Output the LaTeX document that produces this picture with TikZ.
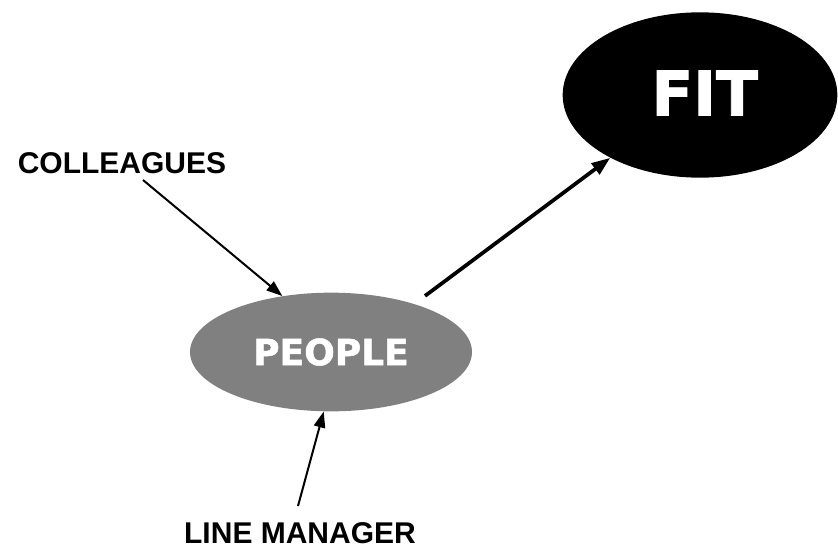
\documentclass[tikz,border=0pt]{standalone}
\usepackage{fontspec}
\setmainfont{Liberation Sans}
\newfontfamily\heavyfont[FakeBold=1.4]{DejaVu Sans}
\usetikzlibrary{arrows.meta}
\usetikzlibrary{shapes.geometric}
\tikzstyle{LabelNode}=[font=\fontsize{22.5}{27}\selectfont\bfseries, inner sep=0pt]
\tikzstyle{BlobNode}=[ellipse, inner sep=0pt, text=white]
\tikzstyle{PeopleNode}=[BlobNode, fill=black!50, minimum width=211.5pt, minimum height=89pt, font=\heavyfont\fontsize{27}{32}\selectfont\bfseries]
\tikzstyle{FitNode}=[BlobNode, fill=black, minimum width=206pt, minimum height=124pt, font=\heavyfont\fontsize{46}{54}\selectfont\bfseries]
\tikzstyle{InEdge}=[-{Triangle[length=12pt,width=8.5pt]}, line width=1.5pt]
\tikzstyle{OutEdge}=[-{Triangle[length=14pt,width=10pt]}, line width=2.8pt]

\begin{document}
\begin{tikzpicture}[x=0.75pt, y=-0.75pt]
\useasboundingbox (0,0) rectangle (838,550);
\node[PeopleNode](People) at (331,352) {PEOPLE};
\node[FitNode](Fit) at (700,95) {\raisebox{3pt}{\hspace{7pt}FIT}};
\node[LabelNode](Colleagues) at (122,163) {COLLEAGUES};
\node[LabelNode](Manager) at (300,533.5) {LINE MANAGER};
\coordinate (ColTail) at (143,180);
\coordinate (MgrTail) at (298,506);

\draw[InEdge](ColTail) -- (People.131);
\draw[InEdge](MgrTail) -- (People.263);
\draw[OutEdge, shorten <=10pt](People.30) -- (Fit.215);
\end{tikzpicture}
\end{document}
